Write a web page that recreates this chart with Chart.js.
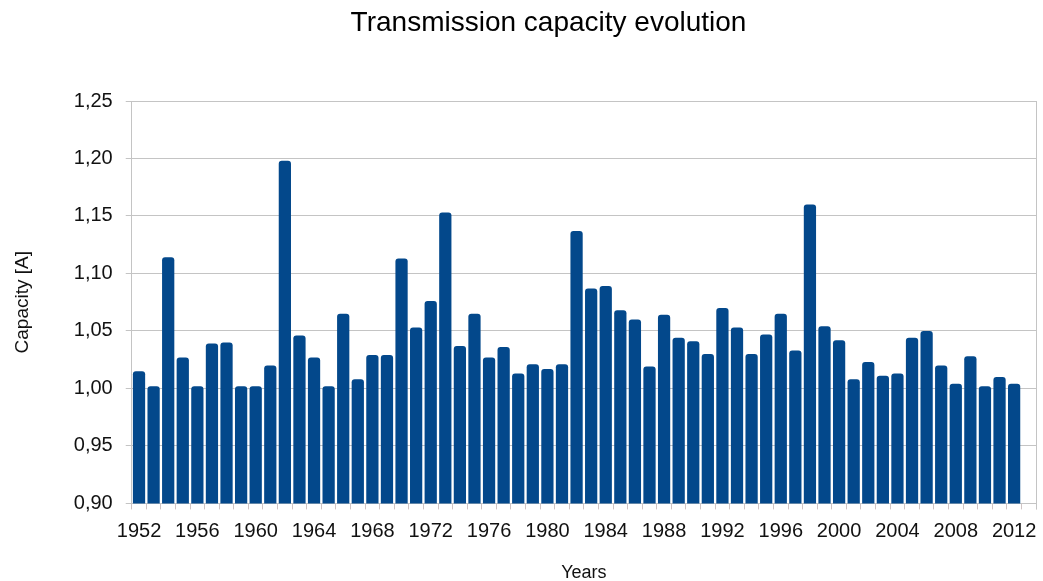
<!DOCTYPE html>
<html>
<head>
<meta charset="utf-8">
<script src="https://cdn.jsdelivr.net/npm/chart.js@4/dist/chart.umd.min.js"></script>
<style>
  body { margin: 0; background: #fff; }
  #wrap { width: 1043px; height: 581px; }
</style>
</head>
<body>
<div id="wrap"><canvas id="capChart" width="1043" height="581"></canvas></div>
<script>
// data (2013 is an empty slot at the end of the axis)
const years = [];
for (let y = 1952; y <= 2013; y++) years.push(String(y));

const capacity = [
  1.015, 1.002, 1.114, 1.027, 1.002, 1.039, 1.040, 1.002, 1.002, 1.020, // 1952-1961
  1.198, 1.046, 1.027, 1.002, 1.065, 1.008, 1.029, 1.029, 1.113, 1.053, // 1962-1971
  1.076, 1.153, 1.037, 1.065, 1.027, 1.036, 1.013, 1.021, 1.017, 1.021, // 1972-1981
  1.137, 1.087, 1.089, 1.068, 1.060, 1.019, 1.064, 1.044, 1.041, 1.030, // 1982-1991
  1.070, 1.053, 1.030, 1.047, 1.065, 1.033, 1.160, 1.054, 1.042, 1.008, // 1992-2001
  1.023, 1.011, 1.013, 1.044, 1.050, 1.020, 1.004, 1.028, 1.002, 1.010, // 2002-2011
  1.004, null                                                            // 2012-2013
];

const yMin = 0.90, yMax = 1.25, yStep = 0.05;
const chartTitle = 'Transmission capacity evolution';

const gridColor = '#c4c4c4';
const font = 'Liberation Sans, Arial, sans-serif';

// right edge line of the plot box + title (title sits a bit right of centre)
const extras = {
  id: 'extras',
  afterDraw(chart) {
    const { ctx, chartArea } = chart;
    ctx.save();
    ctx.strokeStyle = gridColor;
    ctx.lineWidth = 1;
    ctx.beginPath();
    ctx.moveTo(chartArea.right + 0.5, chartArea.top);
    ctx.lineTo(chartArea.right + 0.5, chartArea.bottom + 6);
    ctx.stroke();

    ctx.fillStyle = '#000';
    ctx.font = '28px ' + font;
    ctx.textAlign = 'center';
    ctx.textBaseline = 'middle';
    ctx.fillText(chartTitle, chart.width / 2 + 27, 23);
    ctx.restore();
  }
};

const ctx = document.getElementById('capChart').getContext('2d');
new Chart(ctx, {
  type: 'bar',
  data: {
    labels: years,
    datasets: [{
      label: 'Capacity',
      data: capacity,
      backgroundColor: '#03488b',
      borderRadius: { topLeft: 3, topRight: 3 },
      borderSkipped: 'start',
      categoryPercentage: 0.84,
      barPercentage: 1.0
    }]
  },
  options: {
    responsive: false,
    animation: false,
    layout: { padding: { left: 0, right: 7, top: 101, bottom: -3 } },
    plugins: {
      legend: { display: false },
      tooltip: { enabled: false },
      title: { display: false }
    },
    scales: {
      x: {
        grid: {
          offset: true,
          drawOnChartArea: false,
          drawTicks: true,
          tickLength: 6,
          color: '#d0c4c4'
        },
        border: { color: gridColor },
        ticks: {
          autoSkip: false,
          maxRotation: 0,
          color: '#111',
          font: { family: font, size: 20 },
          padding: 10,
          callback: function (val, i) {
            const yr = Number(years[i]);
            return (yr - 1952) % 4 === 0 ? years[i] : '';
          }
        },
        title: {
          display: true,
          text: 'Years',
          color: '#111',
          font: { family: font, size: 18 },
          padding: { top: 9, bottom: 0 }
        }
      },
      y: {
        min: yMin,
        max: yMax,
        grid: {
          color: gridColor,
          tickLength: 6
        },
        border: { color: gridColor },
        ticks: {
          stepSize: yStep,
          color: '#111',
          font: { family: font, size: 20 },
          padding: 13,
          callback: v => v.toFixed(2).replace('.', ',')
        },
        title: {
          display: true,
          text: 'Capacity [A]',
          color: '#111',
          font: { family: font, size: 19 },
          padding: { top: 11, bottom: 27 }
        }
      }
    }
  },
  plugins: [extras]
});
</script>
</body>
</html>
